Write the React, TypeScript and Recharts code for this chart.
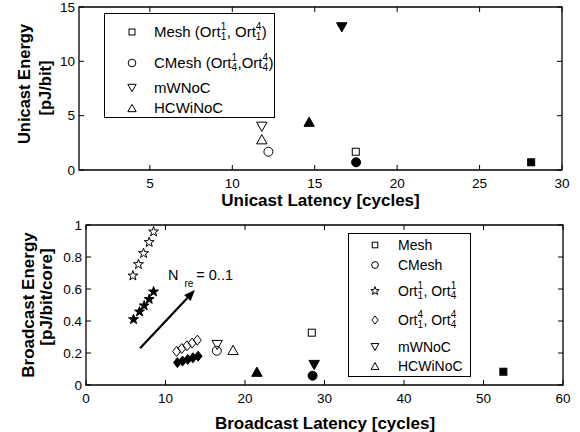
import React from "react";
import {
  ScatterChart,
  Scatter,
  XAxis,
  YAxis,
  ReferenceArea,
  ReferenceLine,
} from "recharts";

const FONT = "'Liberation Sans', Arial, Helvetica, sans-serif";

// unicast: latency [cycles] vs energy [pJ/bit]
const uniMeshOpen = [{ x: 17.49, y: 1.68 }];
const uniMeshFilled = [{ x: 28.13, y: 0.71 }];
const uniCMeshOpen = [{ x: 12.19, y: 1.68 }];
const uniCMeshFilled = [{ x: 17.51, y: 0.71 }];
const uniMwnocOpen = [{ x: 11.79, y: 3.98 }];
const uniMwnocFilled = [{ x: 16.64, y: 13.13 }];
const uniHcwiOpen = [{ x: 11.79, y: 2.83 }];
const uniHcwiFilled = [{ x: 14.66, y: 4.44 }];
const uniXDomain = [0.7, 30];
const uniYDomain = [0, 15];
const uniXTicks = [5, 10, 15, 20, 25, 30];
const uniYTicks = [0, 5, 10, 15];

// broadcast: latency [cycles] vs energy [pJ/bit/core]
const bcOrt1Open = [
  { x: 5.9, y: 0.683 },
  { x: 6.6, y: 0.754 },
  { x: 7.24, y: 0.823 },
  { x: 7.95, y: 0.892 },
  { x: 8.5, y: 0.958 },
];
const bcOrt1Filled = [
  { x: 5.98, y: 0.41 },
  { x: 6.73, y: 0.458 },
  { x: 7.32, y: 0.496 },
  { x: 7.95, y: 0.536 },
  { x: 8.5, y: 0.583 },
];
const bcOrt4Open = [
  { x: 11.4, y: 0.21 },
  { x: 12.05, y: 0.228 },
  { x: 12.7, y: 0.245 },
  { x: 13.35, y: 0.262 },
  { x: 14.0, y: 0.28 },
];
const bcOrt4Filled = [
  { x: 11.5, y: 0.14 },
  { x: 12.15, y: 0.15 },
  { x: 12.8, y: 0.16 },
  { x: 13.45, y: 0.17 },
  { x: 14.1, y: 0.18 },
];
const bcMeshOpen = [{ x: 28.4, y: 0.327 }];
const bcMeshFilled = [{ x: 52.5, y: 0.083 }];
const bcCMeshOpen = [{ x: 16.45, y: 0.214 }];
const bcCMeshFilled = [{ x: 28.5, y: 0.058 }];
const bcMwnocOpen = [{ x: 16.5, y: 0.25 }];
const bcMwnocFilled = [{ x: 28.7, y: 0.125 }];
const bcHcwiOpen = [{ x: 18.5, y: 0.219 }];
const bcHcwiFilled = [{ x: 21.5, y: 0.083 }];
const bcArrow = [
  { x: 6.8, y: 0.23 },
  { x: 13.7, y: 0.594 },
];
const bcXDomain = [0, 60];
const bcYDomain = [0, 1];
const bcXTicks = [0, 10, 20, 30, 40, 50, 60];
const bcYTicks = [0, 0.2, 0.4, 0.6, 0.8, 1];

type Kind = "square" | "circle" | "down" | "up" | "star" | "diamond";

function Marker({ kind, filled, cx, cy, k = 1 }: any) {
  const fill = filled ? "#000" : "none";
  const sp = { fill, stroke: "#000", strokeWidth: 1 };
  if (kind === "square") {
    const h = 3.5 * k;
    return <rect x={cx - h} y={cy - h} width={2 * h} height={2 * h} {...sp} />;
  }
  if (kind === "circle") return <circle cx={cx} cy={cy} r={4.5 * k} {...sp} />;
  if (kind === "down" || kind === "up") {
    const w = 5.2 * k;
    const h = 4.6 * k;
    const s = kind === "down" ? 1 : -1;
    const pts = `${cx - w},${cy - s * h} ${cx + w},${cy - s * h} ${cx},${cy + s * h}`;
    return <polygon points={pts} {...sp} />;
  }
  if (kind === "diamond") {
    const w = 4 * k;
    const h = 5 * k;
    const pts = `${cx},${cy - h} ${cx + w},${cy} ${cx},${cy + h} ${cx - w},${cy}`;
    return <polygon points={pts} {...sp} />;
  }
  // pentagram
  const R = 5.2 * k;
  const r = R * 0.4;
  const pts: string[] = [];
  for (let i = 0; i < 10; i++) {
    const a = -Math.PI / 2 + (i * Math.PI) / 5;
    const rr = i % 2 === 0 ? R : r;
    pts.push(`${cx + rr * Math.cos(a)},${cy + rr * Math.sin(a)}`);
  }
  return <polygon points={pts.join(" ")} {...sp} />;
}

const shape = (kind: Kind, filled: boolean) => (p: any) =>
  <Marker kind={kind} filled={filled} cx={p.cx} cy={p.cy} />;

// MATLAB style: inward ticks on all four sides
function XTick({ x, payload, box, fs }: any) {
  return (
    <g>
      <line x1={x} y1={box.bottom} x2={x} y2={box.bottom - 5} stroke="#000" />
      <line x1={x} y1={box.top} x2={x} y2={box.top + 5} stroke="#000" />
      <text x={x} y={box.bottom + 18} textAnchor="middle" fontSize={fs} fontFamily={FONT} fill="#000">
        {payload.value}
      </text>
    </g>
  );
}

function YTick({ y, payload, box, fs }: any) {
  return (
    <g>
      <line x1={box.left} y1={y} x2={box.left + 5} y2={y} stroke="#000" />
      <line x1={box.right} y1={y} x2={box.right - 5} y2={y} stroke="#000" />
      <text x={box.left - 4} y={y + 4.8} textAnchor="end" fontSize={fs} fontFamily={FONT} fill="#000">
        {payload.value}
      </text>
    </g>
  );
}

function Arrow({ x1, y1, x2, y2 }: any) {
  const ang = Math.atan2(y2 - y1, x2 - x1);
  const L = 11;
  const W = 4.5;
  const bx = x2 - L * Math.cos(ang);
  const by = y2 - L * Math.sin(ang);
  const px = -Math.sin(ang) * W;
  const py = Math.cos(ang) * W;
  return (
    <g>
      <line x1={x1} y1={y1} x2={bx} y2={by} stroke="#000" strokeWidth={2.2} />
      <polygon points={`${x2},${y2} ${bx + px},${by + py} ${bx - px},${by - py}`} fill="#000" />
      <text x={x2 - 27} y={y2 - 10} fontSize={14.5} fontFamily={FONT} fill="#000">
        <tspan>N</tspan>
        <tspan dx={6} dy={7} fontSize={10}>re</tspan>
        <tspan dx={3} dy={-7}>= 0..1</tspan>
      </text>
    </g>
  );
}

function Scr({ sup, sub, top = -5, bot = 5 }: any) {
  return (
    <span style={{ display: "inline-block", position: "relative", width: 6, height: 10 }}>
      <span style={{ position: "absolute", left: 0, top, fontSize: 10, lineHeight: "10px" }}>{sup}</span>
      <span style={{ position: "absolute", left: 0, top: bot, fontSize: 10, lineHeight: "10px" }}>{sub}</span>
    </span>
  );
}

function LegendRow({ cy, mx, tx, kind, k, children }: any) {
  return (
    <>
      <svg style={{ position: "absolute", left: mx - 8, top: cy - 8 }} width={16} height={16}>
        <Marker kind={kind} filled={false} cx={8} cy={8} k={k} />
      </svg>
      <span style={{ position: "absolute", left: tx, top: cy - 10, lineHeight: "20px", whiteSpace: "nowrap" }}>
        {children}
      </span>
    </>
  );
}

const uniBox = { left: 79, right: 562, top: 7, bottom: 170 };
const bcBox = { left: 86, right: 563, top: 9, bottom: 169 };

export default function App() {
  return (
    <div style={{ position: "absolute", left: 0, top: 0, width: 580, height: 432, background: "#fff", fontFamily: FONT }}>
      <div style={{ position: "absolute", left: 0, top: 0 }}>
        <ScatterChart width={580} height={200} margin={{ top: 7, right: 18, bottom: 10, left: 0 }}>
          <XAxis
            type="number"
            dataKey="x"
            domain={uniXDomain}
            ticks={uniXTicks}
            interval={0}
            height={20}
            axisLine={false}
            tickLine={false}
            tick={(p: any) => <XTick {...p} box={uniBox} fs={13.5} />}
          />
          <YAxis
            type="number"
            dataKey="y"
            domain={uniYDomain}
            ticks={uniYTicks}
            interval={0}
            width={79}
            axisLine={false}
            tickLine={false}
            tick={(p: any) => <YTick {...p} box={uniBox} fs={13.5} />}
          />
          <ReferenceArea x1={uniXDomain[0]} x2={uniXDomain[1]} y1={uniYDomain[0]} y2={uniYDomain[1]} fill="none" stroke="#000" strokeWidth={1.3} />
          <Scatter data={uniMeshOpen} shape={shape("square", false)} isAnimationActive={false} />
          <Scatter data={uniMeshFilled} shape={shape("square", true)} isAnimationActive={false} />
          <Scatter data={uniCMeshOpen} shape={shape("circle", false)} isAnimationActive={false} />
          <Scatter data={uniCMeshFilled} shape={shape("circle", true)} isAnimationActive={false} />
          <Scatter data={uniMwnocOpen} shape={shape("down", false)} isAnimationActive={false} />
          <Scatter data={uniMwnocFilled} shape={shape("down", true)} isAnimationActive={false} />
          <Scatter data={uniHcwiOpen} shape={shape("up", false)} isAnimationActive={false} />
          <Scatter data={uniHcwiFilled} shape={shape("up", true)} isAnimationActive={false} />
        </ScatterChart>
      </div>

      <div style={{ position: "absolute", left: 0, top: 216 }}>
        <ScatterChart width={580} height={216} margin={{ top: 9, right: 17, bottom: 27, left: 0 }}>
          <XAxis
            type="number"
            dataKey="x"
            domain={bcXDomain}
            ticks={bcXTicks}
            interval={0}
            height={20}
            axisLine={false}
            tickLine={false}
            tick={(p: any) => <XTick {...p} box={bcBox} fs={13.5} />}
          />
          <YAxis
            type="number"
            dataKey="y"
            domain={bcYDomain}
            ticks={bcYTicks}
            interval={0}
            width={86}
            axisLine={false}
            tickLine={false}
            tick={(p: any) => <YTick {...p} box={bcBox} fs={13.5} />}
          />
          <ReferenceArea x1={bcXDomain[0]} x2={bcXDomain[1]} y1={bcYDomain[0]} y2={bcYDomain[1]} fill="none" stroke="#000" strokeWidth={1.3} />
          <ReferenceLine segment={bcArrow} shape={(p: any) => <Arrow {...p} />} />
          <Scatter data={bcOrt1Open} shape={shape("star", false)} isAnimationActive={false} />
          <Scatter data={bcOrt1Filled} shape={shape("star", true)} isAnimationActive={false} />
          <Scatter data={bcOrt4Open} shape={shape("diamond", false)} isAnimationActive={false} />
          <Scatter data={bcOrt4Filled} shape={shape("diamond", true)} isAnimationActive={false} />
          <Scatter data={bcMeshOpen} shape={shape("square", false)} isAnimationActive={false} />
          <Scatter data={bcMeshFilled} shape={shape("square", true)} isAnimationActive={false} />
          <Scatter data={bcCMeshOpen} shape={shape("circle", false)} isAnimationActive={false} />
          <Scatter data={bcCMeshFilled} shape={shape("circle", true)} isAnimationActive={false} />
          <Scatter data={bcMwnocOpen} shape={shape("down", false)} isAnimationActive={false} />
          <Scatter data={bcMwnocFilled} shape={shape("down", true)} isAnimationActive={false} />
          <Scatter data={bcHcwiOpen} shape={shape("up", false)} isAnimationActive={false} />
          <Scatter data={bcHcwiFilled} shape={shape("up", true)} isAnimationActive={false} />
        </ScatterChart>
      </div>

      <svg style={{ position: "absolute", left: 0, top: 0, pointerEvents: "none" }} width={580} height={432}>
        <g fontFamily={FONT} fontWeight="bold" fontSize={17} fill="#000" textAnchor="middle">
          <text x={320.5} y={206}>Unicast Latency [cycles]</text>
          <text x={325} y={429}>Broadcast Latency [cycles]</text>
          <text x={29.5} y={84} transform="rotate(-90 29.5 84)" fontSize={16.5}>Unicast Energy</text>
          <text x={50.5} y={88} transform="rotate(-90 50.5 88)" fontSize={16.5}>[pJ/bit]</text>
          <text x={34} y={305} transform="rotate(-90 34 305)">Broadcast Energy</text>
          <text x={51.5} y={297} transform="rotate(-90 51.5 297)">[pJ/bit/core]</text>
        </g>
      </svg>

      <div style={{ position: "absolute", left: 104, top: 13, width: 171, height: 105, boxSizing: "border-box", border: "1.3px solid #000", background: "#fff", fontSize: 15 }}>
        <LegendRow cy={17.7} mx={26.7} tx={49} kind="square" k={0.85}>
          Mesh (Ort<Scr sup="1" sub="1" />, Ort<Scr sup="4" sub="1" />)
        </LegendRow>
        <LegendRow cy={48.7} mx={26.7} tx={49} kind="circle" k={0.85}>
          CMesh (Ort<Scr sup="1" sub="4" />,Ort<Scr sup="4" sub="4" />)
        </LegendRow>
        <LegendRow cy={74.3} mx={26.7} tx={49} kind="down" k={0.8}>
          mWNoC
        </LegendRow>
        <LegendRow cy={94.3} mx={26.7} tx={49} kind="up" k={0.8}>
          HCWiNoC
        </LegendRow>
      </div>

      <div style={{ position: "absolute", left: 348, top: 233, width: 123, height: 144, boxSizing: "border-box", border: "1.3px solid #000", background: "#fff", fontSize: 14 }}>
        <LegendRow cy={10.6} mx={26.3} tx={49} kind="square" k={0.8}>
          Mesh
        </LegendRow>
        <LegendRow cy={30.6} mx={26.3} tx={49} kind="circle" k={0.75}>
          CMesh
        </LegendRow>
        <LegendRow cy={57} mx={26.3} tx={49} kind="star" k={0.85}>
          Ort<Scr sup="1" sub="1" />, Ort<Scr sup="1" sub="4" />
        </LegendRow>
        <LegendRow cy={86} mx={26.3} tx={49} kind="diamond" k={0.8}>
          Ort<Scr sup="4" sub="1" />, Ort<Scr sup="4" sub="4" />
        </LegendRow>
        <LegendRow cy={113.3} mx={26.3} tx={49} kind="down" k={0.75}>
          mWNoC
        </LegendRow>
        <LegendRow cy={132.3} mx={26.3} tx={49} kind="up" k={0.75}>
          HCWiNoC
        </LegendRow>
      </div>
    </div>
  );
}
